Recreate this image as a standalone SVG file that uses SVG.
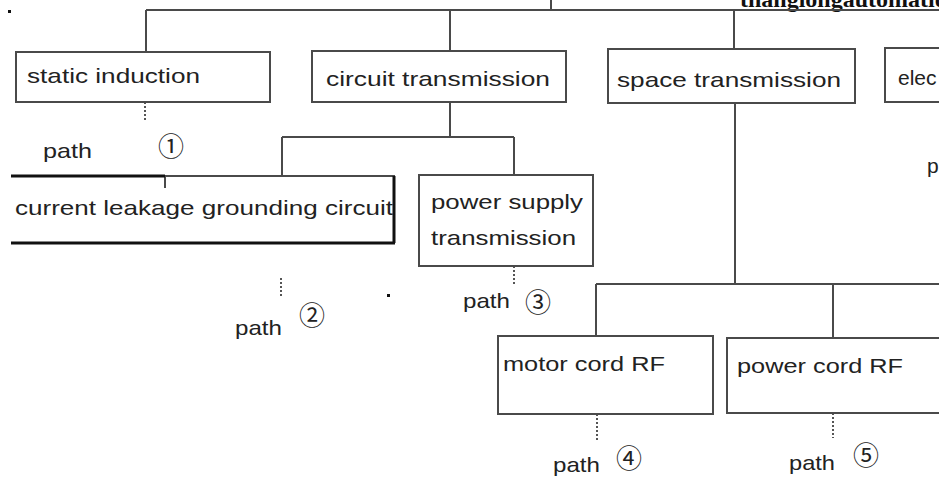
<svg xmlns="http://www.w3.org/2000/svg" width="939" height="484" viewBox="0 0 939 484">
<style>
.box{fill:#fff;stroke:#4a4a4a;stroke-width:2}
.thick{stroke:#111;stroke-width:3;fill:none}
.ln{stroke:#4a4a4a;stroke-width:2;fill:none}
.dot{stroke:#555;stroke-width:2;stroke-dasharray:2 2;fill:none}
.t{font-family:"Liberation Sans",Arial,sans-serif;font-size:21px;fill:#222}
.c{font-family:"Noto Sans CJK JP","DejaVu Sans",sans-serif;font-size:26px;fill:#222;text-anchor:middle}
</style>
<rect width="939" height="484" fill="#fff"/>
<text x="740" y="7" font-family="Liberation Serif,serif" font-weight="bold" font-size="24" fill="#111">thanglongautomation.com</text>
<rect x="8" y="10" width="3" height="3" fill="#111"/>
<rect x="387" y="294" width="3" height="3" fill="#111"/>
<g id="connectors">
<path class="ln" d="M146,10 H939 M551,0 V10 M146,10 V52 M450,10 V51 M734,10 V49"/>
<path class="ln" d="M450,102 V137 M282,137 H514 M282,137 V176 M514,137 V175"/>
<path class="ln" d="M735,103 V284 M596,284 H939 M596,284 V336 M833,284 V338"/>
<path class="dot" d="M145,102 V122 M281,278 V296 M514,266 V286 M597,414 V440 M833,413 V438"/>
</g>
<g id="static-induction">
<rect class="box" x="16" y="52" width="254" height="50"/>
<text class="t" x="27" y="83" textLength="173" lengthAdjust="spacingAndGlyphs">static induction</text>
<text class="t" x="43" y="158" textLength="49" lengthAdjust="spacingAndGlyphs">path</text>
<text class="c" x="171" y="156">①</text>
</g>
<g id="circuit-transmission">
<rect class="box" x="312" y="51" width="254" height="51"/>
<text class="t" x="326" y="86" textLength="224" lengthAdjust="spacingAndGlyphs">circuit transmission</text>
</g>
<g id="space-transmission">
<rect class="box" x="608" y="49" width="247" height="54"/>
<text class="t" x="617" y="87" textLength="224" lengthAdjust="spacingAndGlyphs">space transmission</text>
</g>
<g id="elec">
<rect class="box" x="885" y="48" width="70" height="54"/>
<text class="t" x="898" y="85">elec</text>
<text class="t" x="927" y="173">p</text>
</g>
<g id="current-leakage">
<rect x="11" y="176" width="383" height="67" fill="#fff"/>
<path class="ln" d="M165,176 H395 M165,176 V188"/>
<path class="thick" d="M11,176 H165 M394,176 V243 M11,243 H395"/>
<text class="t" x="15" y="215" textLength="378" lengthAdjust="spacingAndGlyphs">current leakage grounding circuit</text>
<text class="t" x="235" y="335" textLength="47" lengthAdjust="spacingAndGlyphs">path</text>
<text class="c" x="312" y="325">②</text>
</g>
<g id="power-supply">
<rect class="box" x="419" y="175" width="174" height="91"/>
<text class="t" x="431" y="209" textLength="152" lengthAdjust="spacingAndGlyphs">power supply</text>
<text class="t" x="431" y="245" textLength="145" lengthAdjust="spacingAndGlyphs">transmission</text>
<text class="t" x="463" y="308" textLength="47" lengthAdjust="spacingAndGlyphs">path</text>
<text class="c" x="538" y="312">③</text>
</g>
<g id="motor-cord">
<rect class="box" x="498" y="336" width="215" height="78"/>
<text class="t" x="503" y="371" textLength="162" lengthAdjust="spacingAndGlyphs">motor cord RF</text>
<text class="t" x="553" y="472" textLength="47" lengthAdjust="spacingAndGlyphs">path</text>
<text class="c" x="629" y="468">④</text>
</g>
<g id="power-cord">
<rect class="box" x="727" y="338" width="220" height="75"/>
<text class="t" x="737" y="373" textLength="166" lengthAdjust="spacingAndGlyphs">power cord RF</text>
<text class="t" x="789" y="470" textLength="46" lengthAdjust="spacingAndGlyphs">path</text>
<text class="c" x="866" y="465">⑤</text>
</g>
</svg>
